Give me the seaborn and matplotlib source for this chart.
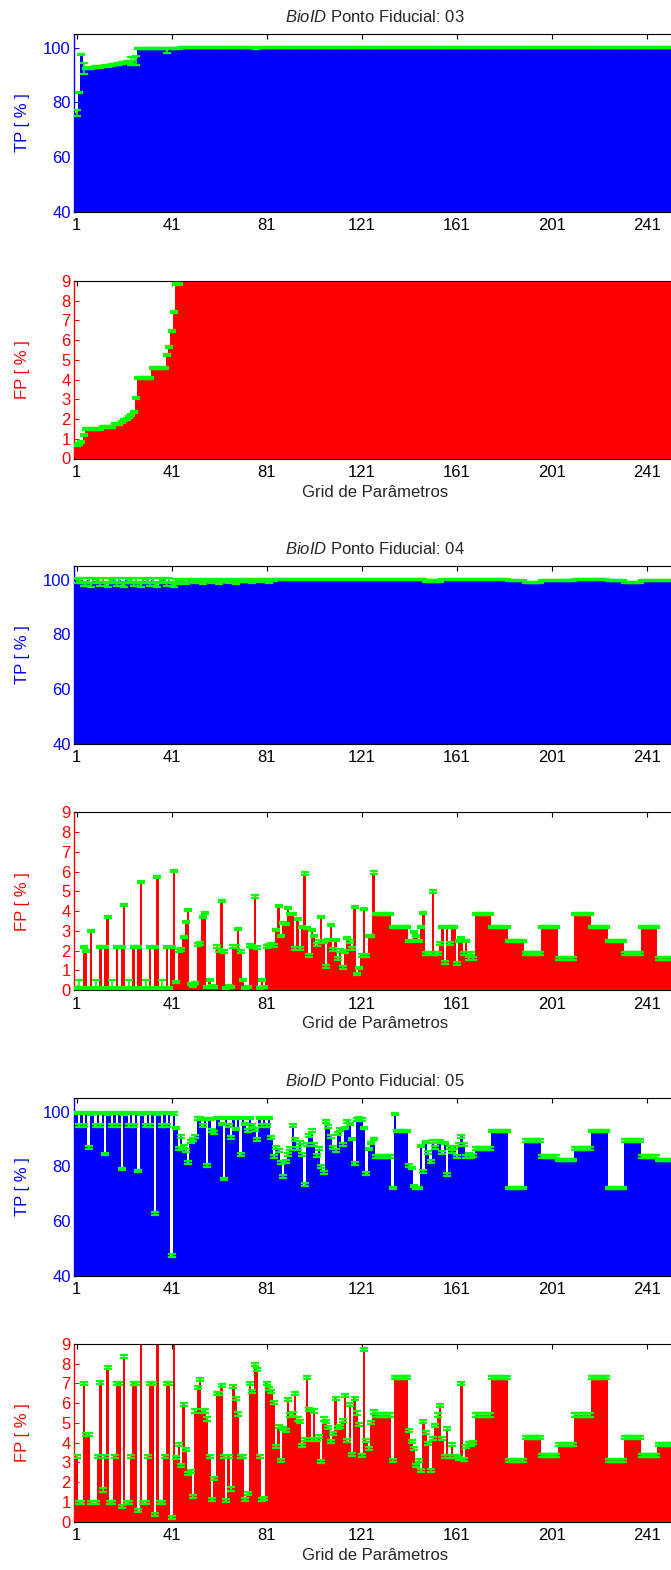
import numpy as np
import pandas as pd
import matplotlib
matplotlib.use("Agg")
import matplotlib.pyplot as plt
import seaborn as sns

# grid of parameters: 252 configurations
grid = np.arange(1, 253)

# ---------------- Ponto Fiducial 03 ----------------
tp03 = ([76.0, 83.5, 97.6, 92.3, 92.4, 92.5, 92.6,
         92.7, 92.8, 92.9, 93.0, 93.1, 93.2, 93.3,
         93.4, 93.6, 93.8, 94.0, 94.1, 94.3, 94.5,
         94.7, 94.8, 95.0, 95.2, 95.3, 99.6, 99.6,
         99.6, 99.6, 99.6, 99.6, 99.6, 99.6, 99.6,
         99.6, 99.6, 99.6, 98.9, 99.6, 99.6, 99.7]
        + [99.8] * 2 + [100.0] * 31 + [99.7] * 2 + [100.0] * 175)
tp03_err = ([1.0, 0.2, 0.2, 2.0] + [0.3] * 19 + [1.4, 1.4, 1.6]
            + [0.25] * 12 + [0.9] + [0.25] * 3 + [0.15] * 210)

fp03 = ([0.7, 0.75, 0.85, 1.2] + [1.5] * 7 + [1.6] * 5 + [1.75] * 3
        + [1.85, 1.95, 2.0, 2.1, 2.2, 2.35, 3.05] + [4.1] * 6 + [4.6] * 6
        + [5.25, 5.65, 6.45, 7.45, 8.85, 8.85] + [12.0] * 208)
fp03_err = [0.05] * 252

# ---------------- Ponto Fiducial 04 ----------------
tp04 = ([99.7, 99.6, 99.7, 98.3, 98.5, 99.7, 98.0,
         99.7, 99.6, 99.7, 98.3, 99.7, 98.3, 98.0,
         99.7, 99.6, 99.7, 98.3, 99.7, 98.3, 98.0,
         99.7, 99.6, 99.7, 98.3, 99.7, 98.3, 98.0,
         99.7, 99.6, 99.7, 98.3, 99.7, 98.3, 98.0,
         99.7, 99.6, 99.7, 98.3, 99.7, 98.3, 98.0,
         99.7, 99.0, 99.6, 99.6, 98.8, 99.7, 99.7,
         99.8, 99.2, 99.7, 99.6, 99.0, 99.7, 99.8,
         99.8, 99.3, 99.7, 99.7, 98.9, 99.8, 99.8,
         99.8, 99.2, 99.8, 99.7, 99.0, 99.8, 99.8,
         99.8, 99.5, 99.8, 99.8, 99.3, 99.8, 99.9,
         99.9, 99.6, 99.9, 99.8, 99.4, 99.9, 99.9]
        + [99.9] * 63 + [99.5] * 7 + [99.9] * 14
        + [99.9] * 7 + [99.9] * 7 + [99.8] * 7 + [98.9] * 7 + [99.8] * 7 + [99.7] * 7
        + [99.9] * 7 + [99.9] * 7 + [99.8] * 7 + [98.9] * 7 + [99.8] * 7 + [99.7] * 7)
tp04_err = [0.8] * 42 + [0.5] * 42 + [0.2] * 168

fp04 = ([0.1, 0.2, 0.1, 2.2, 2.0, 0.1, 3.0,
         0.1, 0.2, 0.1, 2.2, 0.1, 2.2, 3.7,
         0.1, 0.2, 0.1, 2.2, 0.1, 2.2, 4.3,
         0.1, 0.2, 0.1, 2.2, 0.1, 2.2, 5.5,
         0.1, 0.2, 0.1, 2.2, 0.1, 2.2, 5.75,
         0.1, 0.2, 0.1, 2.2, 0.1, 2.2, 6.05,
         0.4, 2.0, 2.05, 2.7, 3.45, 4.05, 0.3,
         0.2, 0.35, 2.3, 2.35, 3.7, 3.9, 0.15,
         0.5, 0.2, 0.15, 2.2, 2.0, 4.5, 1.95,
         0.1, 0.2, 0.15, 2.2, 2.2, 3.1, 1.95,
         0.5, 0.1, 0.15, 2.25, 2.2, 4.75, 2.15,
         0.1, 0.5, 0.15, 2.2, 2.25, 2.3, 2.25,
         3.05, 4.25, 2.75, 3.4, 3.35, 4.15, 3.85,
         3.85, 2.1, 3.6, 2.1, 3.2, 5.9, 3.15,
         1.75, 3.05, 2.75, 2.3, 2.45, 3.7, 2.45,
         1.2, 2.55, 3.3, 2.05, 2.55, 1.6, 2.0,
         1.15, 1.95, 2.65, 2.45, 2.1, 4.2, 0.8,
         1.1, 1.75, 4.1, 1.75, 2.75, 2.75, 5.95]
        + [3.85] * 7 + [3.2] * 7
        + [2.5, 2.5, 2.95, 2.75, 2.5, 3.2, 3.9,
           1.85, 1.85, 1.85, 5.0, 1.85, 1.85, 2.35,
           3.2, 1.4, 3.2, 2.35, 3.2, 3.2, 1.35,
           2.5, 2.65, 1.85, 2.5, 1.6, 1.85, 1.6]
        + [3.85] * 7 + [3.2] * 7 + [2.5] * 7 + [1.85] * 7 + [3.2] * 7 + [1.6] * 7
        + [3.85] * 7 + [3.2] * 7 + [2.5] * 7 + [1.85] * 7 + [3.2] * 7 + [1.6] * 7)
fp04_err = [0.05, 0.3, 0.05, 0.05, 0.05, 0.05, 0.05] * 6 + [0.06] * 210

# ---------------- Ponto Fiducial 05 ----------------
tp05 = ([99.5, 94.8, 99.5, 95.0, 99.5, 86.9, 99.3,
         99.5, 94.8, 99.5, 95.0, 99.5, 84.5, 99.3,
         99.5, 94.8, 99.5, 95.0, 99.5, 79.0, 99.3,
         99.5, 94.8, 99.5, 95.0, 99.5, 78.3, 99.3,
         99.5, 94.8, 99.5, 95.0, 99.5, 62.8, 99.3,
         99.5, 94.8, 99.5, 95.0, 99.5, 47.3, 99.3,
         94.0, 86.4, 91.0, 87.3, 85.9, 81.3, 89.0,
         89.8, 91.0, 97.4, 97.4, 94.9, 97.3, 80.4,
         97.3, 93.0, 92.4, 97.7, 97.7, 95.5, 75.3,
         97.7, 95.0, 90.6, 97.7, 93.6, 97.7, 84.3,
         97.7, 95.5, 93.0, 97.7, 95.0, 93.5, 89.7,
         97.7, 95.0, 97.7, 95.0, 97.7, 90.5, 83.6,
         86.9, 85.9, 81.4, 76.3, 81.8, 84.4, 86.5,
         95.0, 89.8, 86.5, 88.8, 84.4, 73.2, 88.0,
         91.2, 93.0, 88.0, 84.0, 86.5, 80.0, 77.8,
         96.3, 94.5, 91.0, 86.9, 85.9, 92.0, 93.5,
         88.0, 94.0, 96.5, 95.5, 90.0, 81.0, 97.1,
         97.5, 97.1, 94.0, 77.3, 86.3, 88.5, 90.0,
         83.6, 83.6, 83.6, 83.6, 83.6, 83.6, 83.6,
         72.0, 99.1, 92.9, 92.9, 92.9, 92.9, 92.9,
         80.3, 79.4, 72.8, 72.0, 72.0, 87.4, 78.2,
         88.9, 85.0, 81.7, 89.0, 86.9, 89.0, 89.0,
         85.0, 88.5, 76.9, 86.9, 85.5, 87.0, 83.5,
         88.0, 91.0, 88.0, 83.5, 84.5, 83.5, 84.0]
        + [86.5] * 7 + [92.9] * 7 + [72.0] * 7 + [89.4] * 7 + [83.5] * 7 + [82.3] * 7
        + [86.5] * 7 + [92.9] * 7 + [72.0] * 7 + [89.4] * 7 + [83.5] * 7 + [82.3] * 7)
tp05_err = [0.5] * 252

fp05 = ([3.3, 0.95, 0.95, 7.0, 4.4, 4.4, 0.95,
         0.95, 0.95, 3.3, 7.05, 1.6, 3.3, 7.8,
         0.95, 0.95, 3.3, 7.0, 7.0, 0.75, 8.35,
         0.95, 0.95, 3.3, 7.0, 7.0, 0.55, 12.0,
         0.95, 0.95, 3.3, 7.0, 7.0, 0.35, 12.0,
         0.95, 0.95, 3.3, 7.0, 7.0, 0.2, 12.0,
         3.25, 3.9, 2.85, 5.95, 3.65, 2.45, 2.55,
         1.25, 5.6, 6.8, 7.2, 5.6, 5.6, 5.2,
         3.3, 1.1, 2.2, 6.5, 6.5, 6.9, 3.3,
         1.05, 3.3, 1.65, 6.85, 6.25, 5.45, 3.3,
         3.3, 1.1, 1.4, 7.0, 6.6, 7.95, 7.7,
         3.3, 1.1, 1.15, 7.0, 6.75, 6.6, 6.05,
         3.8, 4.8, 3.1, 4.7, 4.6, 6.2, 5.4,
         5.45, 6.5, 5.2, 5.05, 3.85, 4.15, 7.3,
         5.7, 4.15, 5.6, 4.15, 4.3, 3.05, 5.2,
         5.05, 4.75, 4.05, 4.45, 6.25, 4.75, 4.8,
         5.1, 6.4, 4.1, 5.95, 3.4, 6.25, 5.5,
         4.9, 3.35, 8.7, 4.1, 3.7, 5.0, 5.55,
         5.4, 5.4, 5.4, 5.4, 5.4, 5.4, 5.4,
         3.1, 7.3, 7.3, 7.3, 7.3, 7.3, 7.3,
         4.6, 4.05, 3.7, 2.85, 3.1, 2.6, 5.05,
         4.5, 3.95, 2.6, 4.2, 4.85, 5.4, 5.9,
         4.2, 3.3, 4.7, 3.3, 3.9, 3.3, 3.3,
         3.2, 7.0, 3.15, 3.8, 3.95, 3.9, 4.0]
        + [5.4] * 7 + [7.3] * 7 + [3.1] * 7 + [4.25] * 7 + [3.35] * 7 + [3.9] * 7
        + [5.4] * 7 + [7.3] * 7 + [3.1] * 7 + [4.25] * 7 + [3.35] * 7 + [3.9] * 7)
fp05_err = [0.08] * 252

titles = ["03", "04", "05"]
tp_series = [(tp03, tp03_err), (tp04, tp04_err), (tp05, tp05_err)]
fp_series = [(fp03, fp03_err), (fp04, fp04_err), (fp05, fp05_err)]

sns.set_style("white")
plt.rcParams["font.family"] = ["Liberation Sans", "DejaVu Sans"]
plt.rcParams["mathtext.fontset"] = "custom"
plt.rcParams["mathtext.rm"] = "Liberation Sans"
plt.rcParams["mathtext.it"] = "Liberation Sans:italic"

W, H = 671.0, 1570.0
fig = plt.figure(figsize=(W / 100, H / 100), dpi=100)

AX_LEFT, AX_WIDTH, AX_H = 74.3, 600.9, 177.5
TP_TOPS = [34, 566, 1098]
FP_TOPS = [281, 812.5, 1344]

BLUE, RED, GREEN = "#0000ff", "#ff0000", "#00ff00"


def make_axes(top):
    return fig.add_axes([AX_LEFT / W, 1 - (top + AX_H) / H, AX_WIDTH / W, AX_H / H])


def draw_panel(ax, vals, errs, kind):
    color = BLUE if kind == "TP" else RED
    df = pd.DataFrame({"grid": grid, "val": vals})
    sns.barplot(data=df, x="grid", y="val", native_scale=True, width=1.0,
                color=color, saturation=1, linewidth=0, errorbar=None, ax=ax)
    ax.errorbar(grid, vals, yerr=errs, fmt="none", ecolor=GREEN,
                elinewidth=1.2, capsize=3.2, capthick=1.6, zorder=3)
    ax.set_xlim(0, 253)
    ax.set_xticks([1, 41, 81, 121, 161, 201, 241])
    ax.set_xticklabels(["1", "41", "81", "121", "161", "201", "241"])
    if kind == "TP":
        ax.set_ylim(40, 105)
        ax.set_yticks([40, 60, 80, 100])
    else:
        ax.set_ylim(0, 9)
        ax.set_yticks(range(0, 10))
    ax.set_axisbelow(True)
    ax.tick_params(axis="x", direction="in", top=True, bottom=True, length=3.5,
                   width=0.8, labelsize=12, pad=5, colors="black")
    ax.tick_params(axis="y", direction="in", left=True, right=False, length=3.5,
                   width=0.8, labelsize=12, pad=2.5, colors=color)
    for side in ["top", "bottom"]:
        ax.spines[side].set_color("black")
        ax.spines[side].set_linewidth(0.8)
    ax.spines["left"].set_color(color)
    ax.spines["left"].set_linewidth(1.0)
    ax.spines["right"].set_visible(False)
    ax.set_ylabel(kind + " [ % ]", color=color, fontsize=12)
    ax.yaxis.set_label_coords(-0.074, 0.5)
    ax.set_xlabel("")


for i in range(3):
    ax_tp = make_axes(TP_TOPS[i])
    draw_panel(ax_tp, tp_series[i][0], tp_series[i][1], "TP")
    ax_tp.set_title(r"$\it{BioID}$ Ponto Fiducial: " + titles[i], fontsize=12, pad=8.5)

    ax_fp = make_axes(FP_TOPS[i])
    draw_panel(ax_fp, fp_series[i][0], fp_series[i][1], "FP")
    ax_fp.set_xlabel("Grid de Parâmetros", fontsize=12, labelpad=3)

fig.savefig("out.png", dpi=100)
